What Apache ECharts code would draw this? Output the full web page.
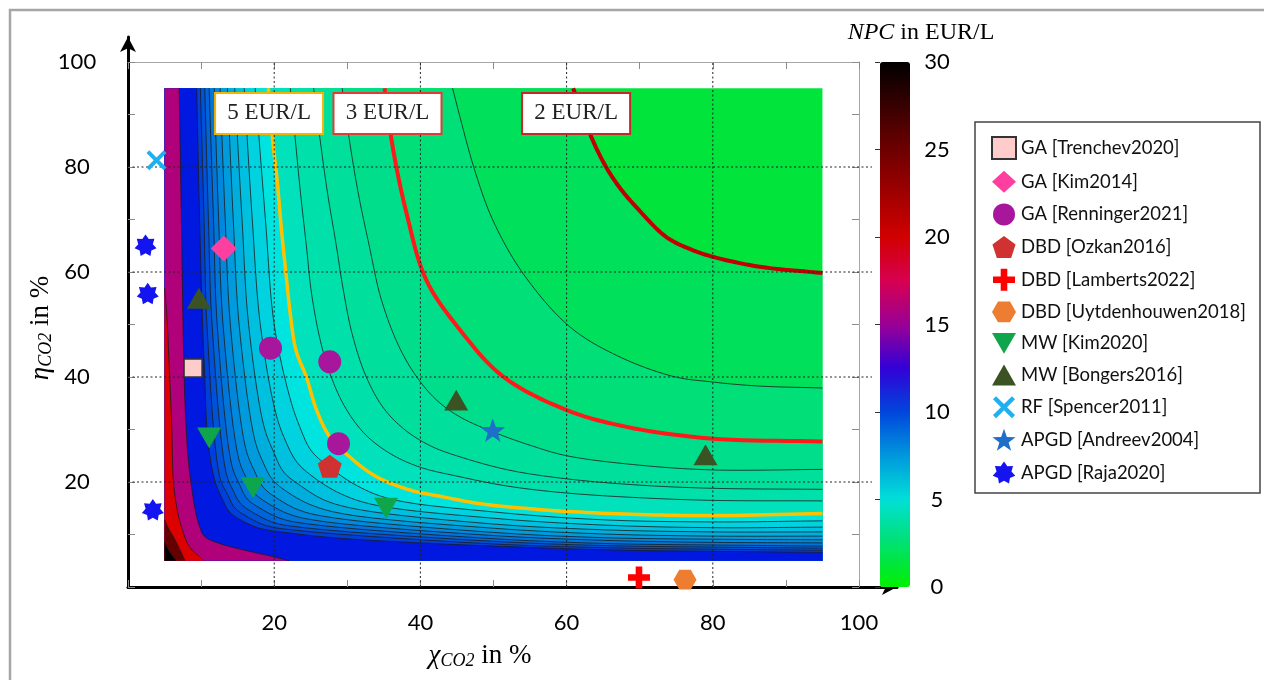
<!DOCTYPE html>
<html><head><meta charset="utf-8">
<script src="https://cdn.jsdelivr.net/npm/echarts@6/dist/echarts.min.js"></script>
<style>html,body{margin:0;padding:0;background:#fff}#c{width:1264px;height:680px}</style>
</head><body><div id="c"></div>
<script>
// ---------------- DATA ----------------
const chiTicks = [20, 40, 60, 80, 100];
const etaTicks = [20, 40, 60, 80, 100];
const gridValues = [20, 40, 60, 80];
const npcTicks = [0, 5, 10, 15, 20, 25, 30];
const fieldRange = [5, 95];
const levels = [2, 2.5, 3, 3.5, 4, 4.5, 5, 5.5, 6, 6.5, 7, 7.5, 8, 8.5, 9, 9.5, 10, 15, 20, 25, 30];

// contour lines [chi, eta] of NPC levels (EUR/L)
const npc_2 = [[60.9,95],[62.2,90],[63.6,85],[65.4,80],[67.3,76],[69.5,72.4],[73.6,66.7],[77,64.3],[80,62.9],[86.4,61],[95,59.8]];
const npc_2_5 = [[44.4,95],[45.4,89.6],[47.4,79.5],[49.9,69.9],[54,59.8],[60.4,49.6],[67,44],[74.6,40.1],[79.6,39.1],[86,38.3],[95,37.9]];
const npc_3 = [[35.1,95],[36.2,83.9],[38.1,71.2],[40.8,58.5],[45.4,49],[51.3,40.1],[60,33.7],[68.2,30.5],[79.6,28.3],[95,27.7]];
const npc_3_5 = [[29.3,95],[30.3,85],[31.5,75],[33,65],[34.6,55],[37,46],[39.5,40],[42.3,35.5],[45.4,32.4],[50,29.5],[55,27],[60,25],[70,23.2],[80,22.3],[95,22.4]];
const npc_4 = [[25.4,95],[26.3,85],[27.3,75],[28.5,65],[29.4,57],[30.7,48],[32.6,40],[35,34],[38,29.8],[41.5,26.8],[45.4,24.8],[52,22.3],[60,20.6],[70,19.4],[80,18.8],[95,18.6]];
const npc_4_5 = [[22.2,95],[22.9,85],[23.6,75],[24.4,65],[25.1,56],[26.3,47],[27.8,40],[29.8,34],[32.5,29],[36,25.3],[40,22.8],[45.4,21.0],[52,19.2],[60,17.9],[70,17.0],[80,16.5],[95,16.4]];
const npc_5 = [[19.2,95],[19.8,85],[20.4,77.5],[21.0,68],[21.7,58.5],[22.2,52],[23.0,45],[24.4,40],[25.8,33.7],[27.6,28.6],[30.3,24.8],[34.0,21.0],[38.5,18.5],[43,17.2],[48,15.9],[55,14.9],[60,14.4],[70,13.8],[80,13.6],[95,14.0]];
const npc_5_5 = [[17.4,95],[18.8,70],[20.0,50],[22.1,36.3],[23.5,30.5],[25.1,25.9],[27.7,22.7],[31.2,19.4],[35.8,16.8],[50,14.3],[65,12.8],[80,12.4],[95,12.6]];
const npc_6 = [[15.9,95],[17.0,70],[18.1,50],[20.2,33.2],[21.5,28.0],[23.1,23.8],[25.4,20.9],[28.9,17.9],[33.5,15.7],[50,13.1],[65,11.8],[80,11.3],[95,11.4]];
const npc_6_5 = [[14.6,95],[15.6,70],[16.5,50],[18.6,30.6],[19.9,25.8],[21.3,21.9],[23.6,19.3],[26.8,16.6],[31.4,14.8],[50,12.0],[65,10.9],[80,10.5],[95,10.5]];
const npc_7 = [[13.6,95],[14.4,70],[15.2,50],[17.3,28.3],[18.4,24.0],[19.8,20.4],[21.9,18.0],[25.1,15.6],[29.6,13.9],[50,11.2],[65,10.1],[80,9.7],[95,9.7]];
const npc_7_5 = [[12.6,95],[13.3,70],[14.0,50],[16.1,26.4],[17.2,22.4],[18.5,19.0],[20.5,16.8],[23.5,14.6],[28.0,13.2],[50,10.4],[65,9.4],[80,9.1],[95,9.0]];
const npc_8 = [[11.8,95],[12.4,70],[13.0,50],[15.1,24.7],[16.1,21.0],[17.3,17.9],[19.3,15.8],[22.2,13.8],[26.6,12.5],[50,9.8],[65,8.9],[80,8.5],[95,8.4]];
const npc_8_5 = [[11.1,95],[11.7,70],[12.2,50],[14.2,23.2],[15.2,19.7],[16.3,16.8],[18.2,14.9],[21.0,13.0],[25.3,11.9],[50,9.2],[65,8.3],[80,8.0],[95,7.8]];
const npc_9 = [[10.5,95],[11.0,70],[11.5,50],[13.4,21.9],[14.3,18.6],[15.4,15.9],[17.2,14.1],[19.9,12.3],[24.1,11.3],[50,8.7],[65,7.9],[80,7.6],[95,7.4]];
const npc_9_5 = [[9.9,95],[10.4,70],[10.8,50],[12.6,20.7],[13.6,17.7],[14.6,15.1],[16.3,13.4],[18.9,11.7],[23.0,10.8],[50,8.2],[65,7.5],[80,7.2],[95,7.0]];
const npc_10 = [[9.4,95],[9.8,70],[10.2,50],[10.5,40],[10.8,30],[11.3,24],[12.0,19.7],[12.9,16.8],[13.9,14.3],[15.5,12.7],[18,11.2],[22,10.3],[28,9.4],[40,8.4],[50,7.8],[65,7.1],[80,6.8],[95,6.6]];
const npc_15 = [[7.0,95],[7.3,70],[7.6,45],[7.8,35],[8.2,25],[8.7,19],[9.3,14],[9.8,11.5],[10.5,9.6],[12.5,8.3],[15.7,7.1],[19.8,5.8],[22,5]];
const npc_20 = [[5,57],[5.3,52],[5.7,40],[6.0,30],[6.2,20.4],[6.7,15],[7.3,11.5],[8.4,7.7],[9.8,5.8],[10.4,5]];
const npc_25 = [[5,12.8],[5.6,11],[6.2,9.6],[7.1,7.1],[7.8,5]];
const npc_30 = [[5,8.6],[5.7,6.7],[6.6,5]];
const contourList = [npc_2, npc_2_5, npc_3, npc_3_5, npc_4, npc_4_5, npc_5, npc_5_5, npc_6, npc_6_5, npc_7, npc_7_5, npc_8, npc_8_5, npc_9, npc_9_5, npc_10, npc_15, npc_20, npc_25, npc_30];

// literature points [chi, eta]
const GA_Trenchev2020 = [[8.9, 41.7]];
const GA_Kim2014 = [[13.1, 64.5]];
const GA_Renninger2021 = [[19.5, 45.5], [27.6, 42.9], [28.8, 27.3]];
const DBD_Ozkan2016 = [[27.6, 23.0]];
const DBD_Lamberts2022 = [[69.9, 1.8]];
const DBD_Uytdenhouwen2018 = [[76.2, 1.4]];
const MW_Kim2020 = [[11.1, 28.4], [17.1, 18.9], [35.3, 15.0]];
const MW_Bongers2016 = [[9.7, 55.0], [44.9, 35.6], [79.0, 25.2]];
const RF_Spencer2011 = [[3.9, 81.3]];
const APGD_Andreev2004 = [[49.9, 29.9]];
const APGD_Raja2020 = [[2.4, 65.1], [2.7, 55.9], [3.4, 14.7]];

const labelTexts = ['5 EUR/L', '3 EUR/L', '2 EUR/L'];
const labelPoints = [[19.3, 90.2], [35.5, 90.2], [61.3, 90.2]];

// ---------------- STYLE ----------------
const baseColor = '#00E43C';
const bandColors = ['#00E05A','#00DF78','#00DE8C','#00DF9B','#00E0AA','#00E1BC','#00E4E0',
  '#00D2E0','#00C0DF','#00AEDE','#009BDD','#0088DC','#0076DB','#0064DA','#0052D9','#0040DA',
  '#0018E0','#B0007A','#DD0000','#660000','#000000'];
const specialLines = {2: {color:'#C00000', width:4}, 3: {color:'#FF1A1A', width:4}, 5: {color:'#FFC000', width:3.5}};
const labelBorders = ['#F5B400', '#E53935', '#C62828'];
const cbarColors = ['#00F000','#00E070','#00E0D8','#0098DC','#0046DC','#3200D7','#9A0096','#D70050','#D20000','#A00000','#6E0000','#380000','#000000'];

const SYM = {
  pentagon: 'path://M50,0 L97.55,34.55 L79.39,90.45 L20.61,90.45 L2.45,34.55 Z',
  hexagon: 'path://M0,43.3 L25,0 L75,0 L100,43.3 L75,86.6 L25,86.6 Z',
  plus: 'path://M35,0 H65 V35 H100 V65 H65 V100 H35 V65 H0 V35 H35 Z',
  cross: 'path://M0,14 L14,0 L50,36 L86,0 L100,14 L64,50 L100,86 L86,100 L50,64 L14,100 L0,86 L36,50 Z',
  star5: 'path://M50,0 L61.76,33.82 L97.55,34.55 L69.02,56.18 L79.39,90.45 L50,70 L20.61,90.45 L30.98,56.18 L2.45,34.55 L38.24,33.82 Z',
  star7: 'path://M50,0 L64.32,20.27 L89.09,18.82 L82.17,42.66 L98.75,61.13 L75.8,70.58 L71.7,95.05 L50,83 L28.3,95.05 L24.2,70.58 L1.25,61.13 L17.83,42.66 L10.91,18.82 L35.68,20.27 Z',
  triDown: 'path://M0,0 L100,0 L50,87 Z',
  triUp: 'path://M50,0 L100,87 L0,87 Z'
};

// centripetal Catmull-Rom densification for drawing smooth contour curves
function smoothPx(p) {
  if (p.length < 3) return p.slice();
  const out = [p[0]];
  const ext = (a, b) => [2 * a[0] - b[0], 2 * a[1] - b[1]];
  const n = p.length;
  for (let i = 0; i < n - 1; i++) {
    const p0 = i === 0 ? ext(p[0], p[1]) : p[i - 1];
    const p1 = p[i], p2 = p[i + 1];
    const p3 = i + 2 < n ? p[i + 2] : ext(p[n - 1], p[n - 2]);
    const d = (u, v) => Math.max(Math.sqrt(Math.hypot(v[0] - u[0], v[1] - u[1])), 1e-4);
    const t0 = 0, t1 = d(p0, p1), t2 = t1 + d(p1, p2), t3 = t2 + d(p2, p3);
    const steps = 10;
    for (let s = 1; s <= steps; s++) {
      const t = t1 + (t2 - t1) * s / steps;
      const L = (A, B, ta, tb) => [(tb - t) / (tb - ta) * A[0] + (t - ta) / (tb - ta) * B[0], (tb - t) / (tb - ta) * A[1] + (t - ta) / (tb - ta) * B[1]];
      const A1 = L(p0, p1, t0, t1), A2 = L(p1, p2, t1, t2), A3 = L(p2, p3, t2, t3);
      const B1 = L(A1, A2, t0, t2), B2 = L(A2, A3, t1, t3);
      out.push(L(B1, B2, t1, t2));
    }
  }
  return out;
}

const chart = echarts.init(document.getElementById('c'));
const serif = 'Liberation Serif';
const sans = 'Lato';

function fillItem(params, api) {
  const i = params.dataIndex;
  const raw = contourList[i];
  const lo = fieldRange[0], hi = fieldRange[1];
  const px = smoothPx(raw.map(p => api.coord(p)));
  const poly = [];
  if (raw[0][0] > lo + 1e-6) poly.push(api.coord([lo, hi]));
  poly.push(...px);
  const last = raw[raw.length - 1];
  if (last[0] >= hi - 1e-6) poly.push(api.coord([hi, lo]));
  poly.push(api.coord([lo, lo]));
  const children = [];
  if (i === 0) {
    const a = api.coord([lo, hi]), b = api.coord([hi, lo]);
    children.push({type: 'rect', shape: {x: a[0], y: a[1], width: b[0] - a[0], height: b[1] - a[1]}, style: {fill: baseColor}});
  }
  children.push({type: 'polygon', shape: {points: poly}, style: {fill: bandColors[i], stroke: null}});
  return {type: 'group', children};
}
function lineItem(params, api) {
  const i = params.dataIndex;
  const L = levels[i];
  const px = smoothPx(contourList[i].map(p => api.coord(p)));
  const st = specialLines[L] || {color: '#1c1c1c', width: 0.8};
  return {type: 'polyline', shape: {points: px}, style: {stroke: st.color, lineWidth: st.width, fill: null}, z2: specialLines[L] ? 10 : 1};
}
function gridItem(params, api) {
  const v = api.value(0);
  const a = api.coord([v, 0]), b = api.coord([v, 100]);
  const c = api.coord([0, v]), d = api.coord([100, v]);
  const st = {stroke: '#222', lineWidth: 1, lineDash: [2, 2.5], fill: null};
  return {type: 'group', children: [
    {type: 'line', shape: {x1: a[0], y1: a[1], x2: b[0], y2: b[1]}, style: st},
    {type: 'line', shape: {x1: c[0], y1: c[1], x2: d[0] + 13, y2: d[1]}, style: st}
  ]};
}

const mk = (name, data, symbol, size, color, extra) => Object.assign({
  name, type: 'scatter', data, symbol, symbolSize: size, symbolKeepAspect: true,
  itemStyle: {color, opacity: 1}, z: 6, xAxisIndex: 0, yAxisIndex: 0
}, extra || {});

const serif_rich = (fs) => ({
  i: {fontFamily: serif, fontStyle: 'italic', fontSize: fs, color: '#111'},
  s: {fontFamily: serif, fontStyle: 'italic', fontSize: Math.round(fs * 0.68), color: '#111', padding: [Math.round(fs * 0.42), 0, 0, 0]},
  n: {fontFamily: serif, fontSize: fs, color: '#111'}
});

const option = {
  animation: false,
  backgroundColor: '#fff',
  grid: [
    {left: 128, top: 62, width: 731, height: 525},
    {left: 128, top: 37, width: 769, height: 550},
    {left: 880, top: 62, width: 30, height: 525}
  ],
  xAxis: [
    {gridIndex: 0, type: 'value', min: 0, max: 100, interval: 10, position: 'bottom',
      axisLine: {show: false, onZero: false}, axisTick: {inside: true, length: 7, lineStyle: {color: '#8c8c8c'}},
      axisLabel: {formatter: v => chiTicks.includes(v) ? String(v) : '', fontFamily: sans, fontSize: 22, color: '#000', margin: 25},
      splitLine: {show: false}},
    {gridIndex: 0, type: 'value', min: 0, max: 100, interval: 10, position: 'top',
      axisLine: {show: true, onZero: false, lineStyle: {color: '#a6a6a6', width: 1}},
      axisTick: {inside: true, length: 7, lineStyle: {color: '#8c8c8c'}}, axisLabel: {show: false}, splitLine: {show: false}},
    {gridIndex: 1, type: 'value', min: 0, max: 1, position: 'bottom',
      axisLine: {show: true, onZero: false, lineStyle: {color: '#000', width: 3}, symbol: ['none', 'arrow'], symbolSize: [12, 15]},
      axisTick: {show: false}, axisLabel: {show: false}, splitLine: {show: false}},
    {gridIndex: 2, type: 'value', min: 0, max: 1, show: false}
  ],
  yAxis: [
    {gridIndex: 0, type: 'value', min: 0, max: 100, interval: 10, position: 'left',
      axisLine: {show: false, onZero: false}, axisTick: {inside: true, length: 7, lineStyle: {color: '#8c8c8c'}},
      axisLabel: {formatter: v => etaTicks.includes(v) ? String(v) : '', fontFamily: sans, fontSize: 22, color: '#000', margin: 51, align: 'center'},
      splitLine: {show: false}},
    {gridIndex: 0, type: 'value', min: 0, max: 100, interval: 10, position: 'right',
      axisLine: {show: true, onZero: false, lineStyle: {color: '#a6a6a6', width: 1}},
      axisTick: {inside: true, length: 7, lineStyle: {color: '#8c8c8c'}}, axisLabel: {show: false}, splitLine: {show: false}},
    {gridIndex: 1, type: 'value', min: 0, max: 1, position: 'left',
      axisLine: {show: true, onZero: false, lineStyle: {color: '#000', width: 3}, symbol: ['none', 'arrow'], symbolSize: [12, 15]},
      axisTick: {show: false}, axisLabel: {show: false}, splitLine: {show: false}},
    {gridIndex: 2, type: 'value', min: 0, max: 30, interval: 5, position: 'right', z: 10,
      axisLine: {show: false}, axisTick: {inside: true, length: 5, lineStyle: {color: '#333'}},
      axisLabel: {formatter: v => npcTicks.includes(v) ? String(v) : '', fontFamily: sans, fontSize: 22, color: '#000', margin: 27, align: 'center'},
      splitLine: {show: false}}
  ],
  visualMap: {
    type: 'continuous', min: 0, max: 30, seriesIndex: [], orient: 'vertical',
    left: 880, top: 62, itemWidth: 30, itemHeight: 525, padding: 0,
    calculable: false, text: null, inRange: {color: cbarColors}, hoverLink: false
  },
  legend: {
    orient: 'vertical', left: 986, top: 131, itemWidth: 24, itemHeight: 22, itemGap: 10.7,
    textStyle: {fontFamily: sans, fontSize: 18.5, color: '#111'}
  },
  graphic: [
    {type: 'rect', shape: {x: 10, y: 10, width: 1262, height: 680}, style: {fill: null, stroke: '#a6a6a6', lineWidth: 2.5}, z: 100},
    {type: 'rect', shape: {x: 975, y: 122, width: 285, height: 371}, style: {fill: null, stroke: '#444', lineWidth: 1.5}, z: 100},
    {type: 'text', x: 480, y: 656, z: 100, style: {text: '{i|χ}{s|CO2}{n| in %}', rich: serif_rich(27), align: 'center', verticalAlign: 'middle'}},
    {type: 'text', x: 41, y: 328, rotation: Math.PI / 2, z: 100, style: {text: '{i|η}{s|CO2}{n| in %}', rich: serif_rich(27), align: 'center', verticalAlign: 'middle'}},
    {type: 'text', x: 921, y: 33, z: 100, style: {text: '{i|NPC}{n| in EUR/L}', rich: serif_rich(24), align: 'center', verticalAlign: 'middle'}}
  ],
  series: [
    {type: 'custom', name: 'fill', silent: true, xAxisIndex: 0, yAxisIndex: 0, z: 1, clip: true,
      data: levels.map(L => [L]), renderItem: fillItem},
    {type: 'custom', name: 'contours', silent: true, xAxisIndex: 0, yAxisIndex: 0, z: 2, clip: true,
      data: levels.map(L => [L]), renderItem: lineItem},
    {type: 'custom', name: 'gridlines', silent: true, xAxisIndex: 0, yAxisIndex: 0, z: 3, clip: false,
      data: gridValues.map(v => [v]), renderItem: gridItem},
    {type: 'scatter', name: 'labels', silent: true, xAxisIndex: 0, yAxisIndex: 0, z: 8, symbolSize: 0,
      itemStyle: {opacity: 1},
      data: labelPoints.map((p, i) => ({value: p, label: {formatter: labelTexts[i], borderColor: labelBorders[i]}})),
      label: {show: true, position: 'inside', backgroundColor: '#ffffff', opacity: 1, borderWidth: 2, padding: [7, 8], width: 90, align: 'center',
        lineHeight: 25, fontFamily: serif, fontSize: 23, color: '#222'}},
    mk('GA [Trenchev2020]', GA_Trenchev2020, 'rect', 18, '#FFCCCC', {itemStyle: {color: '#FFCCCC', borderColor: '#333', borderWidth: 1.5, opacity: 1}}),
    mk('GA [Kim2014]', GA_Kim2014, 'diamond', 26, '#FF3FA0'),
    mk('GA [Renninger2021]', GA_Renninger2021, 'circle', 23, '#A8179B'),
    mk('DBD [Ozkan2016]', DBD_Ozkan2016, SYM.pentagon, 24, '#D03232'),
    mk('DBD [Lamberts2022]', DBD_Lamberts2022, SYM.plus, 22, '#FF0000'),
    mk('DBD [Uytdenhouwen2018]', DBD_Uytdenhouwen2018, SYM.hexagon, 23, '#ED7D31'),
    mk('MW [Kim2020]', MW_Kim2020, SYM.triDown, 24, '#0FA64B'),
    mk('MW [Bongers2016]', MW_Bongers2016, SYM.triUp, 24, '#3B5323'),
    mk('RF [Spencer2011]', RF_Spencer2011, SYM.cross, 20, '#1EB0F0'),
    mk('APGD [Andreev2004]', APGD_Andreev2004, SYM.star5, 25, '#1E6FC8'),
    mk('APGD [Raja2020]', APGD_Raja2020, SYM.star7, 22, '#1414F0')
  ]
};
option.legend.data = option.series.filter(s => s.type === 'scatter' && s.name !== 'labels').map(s => s.name);
chart.setOption(option);
</script>
</body></html>
